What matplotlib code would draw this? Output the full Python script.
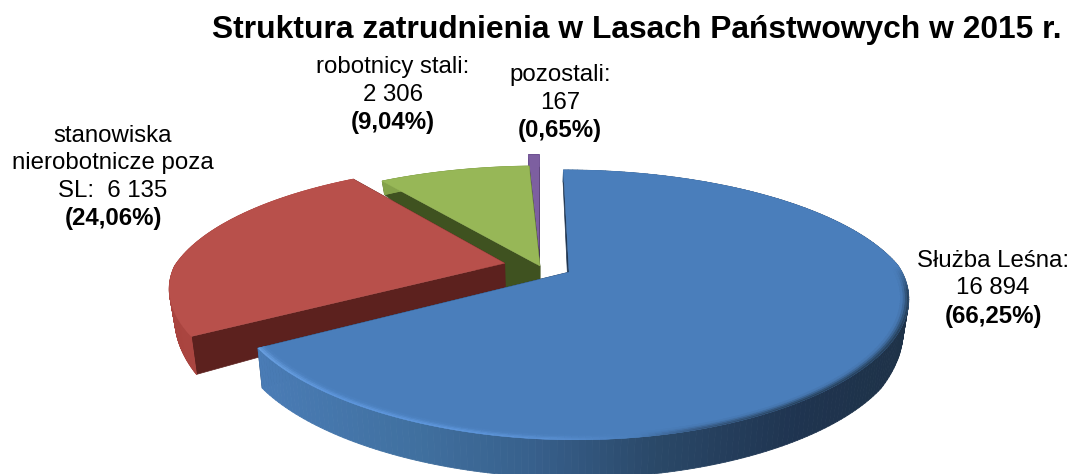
import numpy as np
import matplotlib
matplotlib.use("Agg")
import matplotlib.pyplot as plt
from matplotlib.collections import PolyCollection
from matplotlib.colors import to_rgb

plt.rcParams['font.family'] = ['Liberation Sans', 'DejaVu Sans']

title = "Struktura zatrudnienia w Lasach Państwowych w 2015 r."
categories = ["Służba Leśna:", "stanowiska\nnierobotnicze poza\nSL:", "robotnicy stali:", "pozostali:"]
values = [16894, 6135, 2306, 167]
value_labels = ["16 894", "6 135", "2 306", "167"]
percent_labels = ["(66,25%)", "(24,06%)", "(9,04%)", "(0,65%)"]

explode = [0.10, 0.11, 0.0, 0.14]
apex_extra = [0, 0, 22, 0]
top_colors = ["#4a7ebb", "#b8504b", "#97b757", "#7d5fa0"]
cut_colors = ["#1f3550", "#5c211e", "#3f5220", "#3f2d55"]
W, H = 1070, 474
CX, CY, RX, RY, K, XPOW = 540, 266, 330, 124, 0.24, 0.75
SHRINK = 0.985
DEPTH_S = [0.80, 0.95, 1.07, 1.16, 1.35]
DEPTH_V = [11, 22, 32, 40, 38]


def project(u, v):
    s = 1 / (1 + K * v)
    sx = np.where(s < 1, s, s ** XPOW)
    return CX + RX * u * sx, CY - RY * v * s, s


def lower(x, y, s):
    return CX + (x - CX) * SHRINK, y + np.interp(s, DEPTH_S, DEPTH_V)


def mix(stops_x, stops_c, x):
    arr = np.array([to_rgb(c) for c in stops_c])
    return np.array([np.interp(x, stops_x, arr[:, i]) for i in range(3)])


fig = plt.figure(figsize=(W / 100, H / 100), dpi=100)
ax = fig.add_axes([0, 0, 1, 1])
ax.set_xlim(0, W)
ax.set_ylim(H, 0)
ax.axis("off")

fractions = np.array(values) / np.sum(values)
edges = np.concatenate([[0], np.cumsum(fractions)]) * 2 * np.pi

rim_stops = {
    0: ([258, 420, 540, 660, 800, 905], ["#4a7cb6", "#40709f", "#375f8b", "#2a4868", "#1f3450", "#1e3248"]),
    1: ([170, 400], ["#a9443f", "#b8504b"]),
    2: ([300, 540], ["#84a24a", "#84a24a"]),
    3: ([500, 560], ["#6c5090", "#6c5090"]),
}
bevel_x = [258, 330, 450, 560, 640, 700, 800, 905]
bevel_c = ["#6aa0e0", "#5f98de", "#5f98de", "#5a90d2", "#4a7ebb", "#35577f", "#28435f", "#28435f"]
BEVEL_WIDTHS = [1.0, 0.994, 0.988, 0.982, 0.976]
BEVEL_FADE = [1.0, 0.7, 0.35, 0.1]

for i in [3, 2, 1, 0]:
    a0, a1 = edges[i], edges[i + 1]
    mid = (a0 + a1) / 2
    ou, ov = explode[i] * np.sin(mid), explode[i] * np.cos(mid)
    th = np.linspace(a0, a1, 240)
    x, y, s = project(ou + np.sin(th), ov + np.cos(th))
    xb, yb = lower(x, y, s)
    ax_, ay_, as_ = project(ou, ov)
    axb, ayb = lower(ax_, ay_, as_)
    ayb = ayb + apex_extra[i]
    z = (3 - i) * 10
    for j in [0, -1]:
        ax.fill([ax_, x[j], xb[j], axb], [ay_, y[j], yb[j], ayb],
                color=cut_colors[i], lw=0.5, zorder=10 + z)
    quads, cols = [], []
    for j in range(len(th) - 1):
        quads.append([(x[j], y[j]), (x[j + 1], y[j + 1]), (xb[j + 1], yb[j + 1]), (xb[j], yb[j])])
        cols.append(tuple(mix(*rim_stops[i], x[j])))
    ax.add_collection(PolyCollection(quads, facecolors=cols, edgecolors=cols, linewidths=0.6, zorder=11 + z))
    ax.fill(np.r_[ax_, x], np.r_[ay_, y], color=top_colors[i], lw=0.3, zorder=12 + z)
    if i == 0:
        base = np.array(to_rgb(top_colors[0]))
        for b in range(len(BEVEL_FADE)):
            r0, r1 = BEVEL_WIDTHS[b], BEVEL_WIDTHS[b + 1]
            x0, y0, _ = project(ou + r0 * np.sin(th), ov + r0 * np.cos(th))
            x1, y1, _ = project(ou + r1 * np.sin(th), ov + r1 * np.cos(th))
            bq, bc = [], []
            for j in range(len(th) - 1):
                front = np.clip((-np.cos(th[j]) + 0.05) / 0.2, 0, 1)
                f = BEVEL_FADE[b] * front
                c = base + (mix(bevel_x, bevel_c, x[j]) - base) * f
                bq.append([(x0[j], y0[j]), (x0[j + 1], y0[j + 1]), (x1[j + 1], y1[j + 1]), (x1[j], y1[j])])
                bc.append(tuple(c))
            ax.add_collection(PolyCollection(bq, facecolors=bc, edgecolors=bc, linewidths=0.3, zorder=13 + z))

ax.text(636.5, 30, title, ha="center", va="center", fontsize=22.9, fontweight="bold", color="black")

FS = 17.3
label_pos = [(993, 261), (113, 136), (393, 67), (560, 75)]
LINE = 27.5
for i, (lx, ly) in enumerate(label_pos):
    lines = categories[i].split("\n")
    if i == 1:
        lines[-1] = lines[-1] + "  " + value_labels[i]
    else:
        lines = lines + [value_labels[i]]
    for k, t in enumerate(lines):
        ax.text(lx, ly + k * LINE, t, ha="center", va="center", fontsize=FS, color="black")
    ax.text(lx, ly + len(lines) * LINE, percent_labels[i], ha="center", va="center",
            fontsize=FS, fontweight="bold", color="black")

fig.savefig("out.png", dpi=100)
